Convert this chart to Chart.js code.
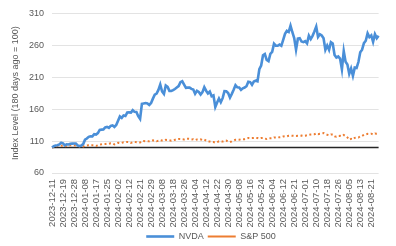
<!DOCTYPE html>
<html>
<head>
<meta charset="utf-8">
<script src="https://cdn.jsdelivr.net/npm/chart.js@4.4.1/dist/chart.umd.min.js"></script>
<style>
  html, body { margin: 0; padding: 0; background: #fff; }
  #wrap { width: 396px; height: 246px; }
</style>
</head>
<body>
<div id="wrap"><canvas id="chart"></canvas></div>
<script>
// tick labels shown on the x axis (every 6th trading day)
const tickLabels = [
  '2023-12-11', '2023-12-19', '2023-12-28', '2024-01-08', '2024-01-17',
  '2024-01-25', '2024-02-02', '2024-02-12', '2024-02-21', '2024-02-29',
  '2024-03-08', '2024-03-18', '2024-03-26', '2024-04-04', '2024-04-12',
  '2024-04-22', '2024-04-30', '2024-05-08', '2024-05-16', '2024-05-24',
  '2024-06-04', '2024-06-12', '2024-06-21', '2024-07-01', '2024-07-10',
  '2024-07-18', '2024-07-26', '2024-08-05', '2024-08-13', '2024-08-21',
];
const tickEvery = 6;

// index level, 180 days ago = 100
const nvda = [
  100.0, 102.1, 103.1, 103.6, 104.8, 107.4, 106.4, 103.2, 105.0, 104.7,
  105.7, 106.0, 106.2, 106.2, 103.3, 102.0, 102.9, 105.3, 112.1, 114.0,
  116.6, 117.6, 117.3, 120.9, 120.2, 122.5, 127.6, 128.0, 128.3, 131.5,
  132.2, 130.8, 133.9, 134.6, 132.0, 135.2, 141.9, 148.6, 146.3, 150.1,
  149.3, 154.7, 154.9, 154.7, 158.5, 155.8, 155.7, 148.9, 144.7, 168.4,
  169.0, 169.6, 168.8, 166.5, 169.7, 176.5, 182.8, 184.3, 190.2, 198.7,
  187.7, 183.9, 197.1, 194.9, 188.6, 188.4, 189.7, 191.6, 193.8, 196.1,
  202.2, 203.7, 198.5, 193.5, 193.8, 193.8, 191.8, 190.8, 184.2, 188.7,
  186.9, 183.0, 186.7, 194.3, 188.9, 184.6, 187.5, 180.2, 181.6, 163.4,
  170.5, 176.8, 170.9, 177.2, 188.2, 188.1, 185.3, 178.1, 184.0, 190.4,
  197.6, 194.2, 193.9, 190.3, 192.7, 193.8, 195.9, 202.9, 202.4, 198.3,
  203.3, 204.6, 203.6, 222.6, 228.3, 244.3, 246.3, 237.0, 235.1, 246.6,
  249.7, 262.6, 259.5, 259.3, 261.2, 259.3, 268.5, 278.0, 282.8, 280.9,
  290.8, 280.5, 271.4, 253.3, 270.4, 271.1, 265.9, 264.9, 266.6, 263.1,
  275.1, 269.8, 274.9, 281.8, 289.3, 273.2, 277.2, 275.4, 271.0, 253.0,
  259.7, 252.9, 264.9, 262.9, 245.0, 240.8, 242.5, 239.3, 222.5, 251.0,
  234.2, 230.0, 215.4, 223.6, 212.1, 225.1, 224.6, 233.8, 249.1, 253.2,
  263.5, 267.2, 278.8, 272.9, 275.6, 265.4, 277.4, 271.2, 275.1,
];

const sp500 = [
  100.0, 100.5, 101.8, 102.1, 102.1, 102.6, 103.2, 101.6, 102.7, 102.9,
  103.3, 103.4, 103.5, 103.2, 102.6, 101.8, 101.4, 101.6, 103.1, 102.9,
  103.5, 103.4, 103.5, 103.1, 102.5, 103.4, 104.7, 104.9, 105.2, 105.3,
  105.9, 105.8, 106.6, 106.5, 104.8, 106.1, 107.3, 106.9, 107.2, 108.1,
  108.1, 108.7, 108.6, 107.2, 108.2, 108.8, 108.3, 107.6, 107.8, 110.1,
  110.1, 109.7, 109.9, 109.7, 110.3, 111.1, 111.0, 109.9, 110.4, 111.6,
  110.8, 110.7, 112.0, 111.7, 111.4, 110.7, 111.4, 112.0, 113.0, 113.4,
  113.2, 112.9, 112.6, 113.5, 113.7, 113.4, 112.6, 112.7, 111.4, 112.6,
  112.5, 112.7, 111.6, 112.5, 110.8, 109.5, 109.3, 108.6, 108.4, 107.5,
  108.4, 109.7, 109.7, 109.2, 110.3, 110.7, 108.9, 108.6, 109.6, 110.9,
  112.1, 112.2, 112.2, 112.8, 113.0, 113.0, 113.5, 114.8, 114.6, 114.7,
  114.8, 115.1, 114.8, 114.0, 114.8, 114.8, 113.9, 113.3, 114.2, 114.3,
  114.5, 115.8, 115.8, 115.7, 116.0, 116.3, 117.3, 117.6, 117.5, 118.4,
  118.7, 118.4, 118.2, 117.9, 118.3, 118.5, 118.6, 118.1, 118.4, 119.2,
  119.8, 120.4, 120.6, 120.7, 121.9, 120.8, 121.5, 121.8, 122.6, 120.9,
  119.9, 119.1, 120.4, 120.2, 117.4, 116.8, 118.1, 118.2, 117.6, 119.5,
  117.8, 115.7, 112.2, 113.4, 112.5, 115.1, 115.6, 115.6, 117.6, 118.0,
  119.9, 120.2, 121.3, 121.1, 121.6, 120.5, 121.9, 121.5, 121.7,
];

const baseLevel = 100;
const yMin = 60;
const yMax = 310;
const yStep = 50;

const labels = nvda.map((_, i) => (i % tickEvery === 0 ? tickLabels[i / tickEvery] : ''));

const textColor = '#595959';
const fontFamily = '"Liberation Sans", Arial, sans-serif';

// black reference line at 100
const baselinePlugin = {
  id: 'baseline',
  beforeDatasetsDraw(chart) {
    const { ctx, chartArea, scales } = chart;
    const y = scales.y.getPixelForValue(baseLevel);
    ctx.save();
    ctx.strokeStyle = '#262626';
    ctx.lineWidth = 1.5;
    ctx.beginPath();
    ctx.moveTo(chartArea.left, y);
    ctx.lineTo(chartArea.right, y);
    ctx.stroke();
    ctx.restore();
  },
};

// nudge legend right and down, and let the long x labels spill past the axis box
const layoutTweaks = {
  id: 'layoutTweaks',
  afterLayout(chart) {
    chart.legend.left += 26;
    chart.legend.top += 5;
    chart.scales.x.bottom += 12;
  },
};

const ctx = document.getElementById('chart').getContext('2d');
new Chart(ctx, {
  type: 'line',
  data: {
    labels,
    datasets: [
      {
        label: 'NVDA',
        data: nvda,
        borderColor: '#4a8fd8',
        borderWidth: 2.6,
        pointRadius: 0,
        tension: 0,
      },
      {
        label: 'S&P 500',
        data: sp500,
        borderColor: '#ed7d31',
        borderWidth: 2,
        borderDash: [2, 2.5],
        pointRadius: 0,
        tension: 0,
      },
    ],
  },
  options: {
    responsive: true,
    maintainAspectRatio: false,
    animation: false,
    layout: { padding: { top: 5, right: 0, bottom: 0, left: 0 } },
    plugins: {
      tooltip: { enabled: false },
      legend: {
        position: 'bottom',
        labels: {
          color: textColor,
          font: { family: fontFamily, size: 9 },
          usePointStyle: true,
          pointStyle: 'line',
          pointStyleWidth: 28,
          boxWidth: 28,
          padding: 4,
        },
      },
    },
    scales: {
      x: {
        grid: { display: false, drawTicks: false },
        border: { display: false },
        ticks: {
          autoSkip: false,
          minRotation: 90,
          maxRotation: 90,
          padding: 6,
          color: textColor,
          font: { family: fontFamily, size: 9.5 },
        },
        afterFit(scale) {
          scale.height = 50;
        },
      },
      y: {
        min: yMin,
        max: yMax,
        ticks: {
          stepSize: yStep,
          padding: 8,
          color: textColor,
          font: { family: fontFamily, size: 9 },
        },
        grid: { color: '#e3e3e3', lineWidth: 1, drawTicks: false },
        border: { display: false },
        title: {
          display: true,
          text: 'Index Level (180 days ago = 100)',
          color: textColor,
          font: { family: fontFamily, size: 9 },
          padding: { top: 10, bottom: 0 },
        },
        afterFit(scale) {
          scale.width = 52;
        },
      },
    },
  },
  plugins: [baselinePlugin, layoutTweaks],
});
</script>
</body>
</html>
